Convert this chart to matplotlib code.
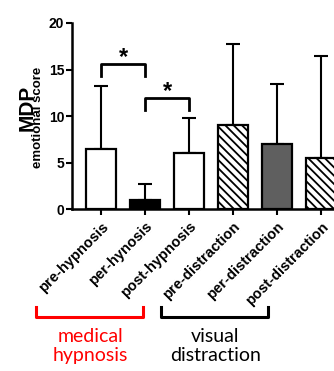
import matplotlib
matplotlib.use("Agg")
import matplotlib.pyplot as plt
from matplotlib.lines import Line2D

categories = ["pre-hypnosis", "per-hynosis", "post-hypnosis",
              "pre-distraction", "per-distraction", "post-distraction"]
means = [6.5, 1.0, 6.0, 9.0, 7.0, 5.5]
upper_err = [6.7, 1.7, 3.75, 8.7, 6.4, 11.0]
fills = ["white", "black", "white", "white", "#5f5f5f", "white"]
hatches = [None, None, None, "\\\\\\\\", None, "\\\\\\\\"]
yticks = [0, 5, 10, 15, 20]
sig_pairs = [(0, 1, 15.55, 14.3), (1, 2, 11.9, 10.6)]
group_labels = ["medical\nhypnosis", "visual\ndistraction"]
group_colors = ["red", "black"]

W, H = 334, 371
fig = plt.figure(figsize=(W / 100, H / 100), dpi=100)
plt.rcParams['hatch.linewidth'] = 1.3

def fx(px):
    return px / W

def fy(py):
    return 1 - py / H

ax = fig.add_axes([fx(72), fy(209), fx(278), fy(23) - fy(209)])
x = list(range(len(categories)))
for i in x:
    ax.bar(i, means[i], width=0.68, color=fills[i], edgecolor="black",
           linewidth=1.6, hatch=hatches[i], zorder=2)
    ax.errorbar(i, means[i], yerr=[[0], [upper_err[i]]], fmt="none",
                ecolor="black", elinewidth=1.5, capsize=4.8, capthick=1.5,
                zorder=1)

ax.set_xlim(-0.66, 5.66)
ax.set_ylim(0, 20)
ax.set_yticks(yticks)
ax.set_xticks(x)
ax.set_xticklabels(categories, rotation=45, ha="right", rotation_mode="anchor",
                   fontsize=10.5, fontweight="bold", family="Liberation Sans")
for lab in ax.get_yticklabels():
    lab.set_fontweight("bold")
    lab.set_family("Liberation Sans")
    lab.set_fontsize(10)
ax.tick_params(axis="both", width=1.5, length=4.5, pad=1)
ax.tick_params(axis="x", pad=3)
for s in ["top", "right"]:
    ax.spines[s].set_visible(False)
for s in ["left", "bottom"]:
    ax.spines[s].set_linewidth(1.8)

for a, b, ytop, yend in sig_pairs:
    ax.plot([a, a, b, b], [yend, ytop, ytop, yend], color="black", lw=2.0,
            clip_on=False, zorder=3)
    ax.text((a + b) / 2, ytop + 0.75, "*", ha="center", va="center",
            fontsize=17, fontweight="bold", family="Liberation Sans")

# y label: "MDP" with subscript "emotional score"
fig.text(fx(27), fy(108), "MDP", rotation=90, ha="center", va="center",
         fontsize=15, fontweight="bold", family="Liberation Sans")
fig.text(fx(38), fy(117), "emotional score", rotation=90, ha="center",
         va="center", fontsize=9.5, fontweight="bold", family="Liberation Sans")

# group brackets below
brackets = [(36, 143), (161, 268)]
for (x0, x1), lab, col in zip(brackets, group_labels, group_colors):
    fig.add_artist(Line2D([fx(x0), fx(x0), fx(x1), fx(x1)],
                          [fy(307), fy(316.5), fy(316.5), fy(307)],
                          color=col, lw=2.2))
    fig.text(fx((x0 + x1) / 2 + 1), fy(346), lab, ha="center", va="center",
             color=col, fontsize=14, family="Lato", linespacing=1.2)

fig.savefig("out.png", dpi=100)
